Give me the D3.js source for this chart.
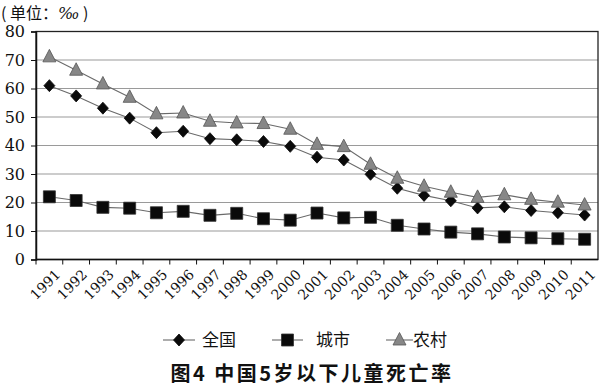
<!DOCTYPE html>
<html lang="zh">
<head>
<meta charset="UTF-8">
<script src="https://d3js.org/d3.v7.min.js"></script>
<style>
  body { margin:0; background:#fff; }
  .grid line { stroke:#9a9a9a; stroke-width:1.2px; }
  .num { font-family: "DejaVu Serif", "Liberation Serif", serif; fill:#111; }
  .cjk { font-family: "Noto Sans CJK SC", sans-serif; fill:#111; }
</style>
</head>
<body>
<svg id="chart" width="600" height="386"></svg>
<script>
// data
const years = ["1991","1992","1993","1994","1995","1996","1997","1998","1999","2000","2001","2002","2003","2004","2005","2006","2007","2008","2009","2010","2011"];
const national = [61.0,57.4,53.1,49.6,44.5,45.0,42.4,42.0,41.4,39.7,35.9,34.9,29.9,25.0,22.5,20.6,18.1,18.5,17.2,16.4,15.6];
const urban = [22.0,20.7,18.3,18.0,16.4,16.9,15.5,16.2,14.3,13.8,16.3,14.6,14.8,12.0,10.7,9.6,9.0,7.9,7.6,7.3,7.1];
const rural = [71.1,66.4,61.6,56.9,51.1,51.4,48.5,47.9,47.7,45.7,40.4,39.6,33.4,28.5,25.7,23.6,21.8,22.7,21.1,20.1,19.1];
const yTicks = [0,10,20,30,40,50,60,70,80];
const seriesNames = ["全国","城市","农村"];

let svg = d3.select("#chart");
let plotLeft = 36, plotRight = 598, plotTop = 31.5, plotBottom = 259.5;

let x = d3.scaleBand().domain(years).range([plotLeft, plotRight]);
let y = d3.scaleLinear().domain([0, 80]).range([plotBottom, plotTop]);

// gridlines
svg.append("g").attr("class","grid")
  .selectAll("line").data(yTicks.filter(d => d > 0 && d < 80)).enter()
  .append("line")
  .attr("x1", plotLeft).attr("x2", plotRight)
  .attr("y1", d => y(d)).attr("y2", d => y(d));

// frame
svg.append("rect")
  .attr("x", plotLeft).attr("y", plotTop)
  .attr("width", plotRight - plotLeft).attr("height", plotBottom - plotTop)
  .style("fill","none").style("stroke","#222").style("stroke-width",1.3);

// y axis
let yAxis = svg.append("g")
  .attr("transform","translate(" + plotLeft + ",0)")
  .call(d3.axisLeft(y).tickValues(yTicks).tickSize(5).tickPadding(6));
yAxis.attr("font-family", null).attr("font-size", null);
yAxis.select(".domain").style("stroke","#111").style("stroke-width",1.5);
yAxis.selectAll(".tick line").style("stroke","#111");
yAxis.selectAll("text").attr("class","num").attr("fill", null).style("font-size","16px");

// x axis: ticks at band edges, labels at band centres
let xa = svg.append("g");
xa.append("line").attr("x1", plotLeft).attr("x2", plotRight)
  .attr("y1", plotBottom).attr("y2", plotBottom)
  .style("stroke","#111").style("stroke-width",1.5);
xa.selectAll(".xt").data(years).enter().append("line")
  .attr("x1", d => x(d)).attr("x2", d => x(d))
  .attr("y1", plotBottom).attr("y2", plotBottom + 5)
  .style("stroke","#111");
xa.selectAll(".xl").data(years).enter().append("text")
  .attr("class","num")
  .attr("transform", d => "translate(" + (x(d) + x.bandwidth()/2 + 5) + "," + (plotBottom + 9) + ") rotate(-45)")
  .attr("text-anchor","end")
  .attr("dy","0.7em")
  .style("font-size","14px")
  .text(d => d);

// series
let line = d3.line().x((d,i) => x(years[i]) + x.bandwidth()/2).y(d => y(d));
let lineColor = "#6a6a6a";

function drawLine(vals) {
  svg.append("path").datum(vals)
    .attr("d", line)
    .style("fill","none").style("stroke",lineColor).style("stroke-width",1.1);
}
drawLine(national);
drawLine(urban);
drawLine(rural);

let diamond = "M0,-6L5.5,0L0,6L-5.5,0Z";
let square = "M-6,-6L6,-6L6,6L-6,6Z";
let triangle = "M0,-7.5L6.5,5L-6.5,5Z";

function drawMarks(vals, shape, fill, stroke) {
  svg.append("g").selectAll("path").data(vals).enter()
    .append("path")
    .attr("d", shape)
    .attr("transform", (d,i) => "translate(" + (x(years[i]) + x.bandwidth()/2) + "," + y(d) + ")")
    .style("fill", fill).style("stroke", stroke).style("stroke-width", 0.8);
}
drawMarks(urban, square, "#0a0a0a", "#333");
drawMarks(national, diamond, "#0a0a0a", "#0a0a0a");
drawMarks(rural, triangle, "#878787", "#555");

// legend
let legendItems = [
  {name: seriesNames[0], shape: diamond, fill:"#0a0a0a", stroke:"#0a0a0a", x1:163, x2:195, tx:202},
  {name: seriesNames[1], shape: square, fill:"#0a0a0a", stroke:"#333", x1:272, x2:303, tx:316},
  {name: seriesNames[2], shape: triangle, fill:"#878787", stroke:"#555", x1:386, x2:413, tx:413}
];
let ly = 340;
legendItems.forEach(function(d) {
  svg.append("line").attr("x1", d.x1).attr("x2", d.x2).attr("y1", ly).attr("y2", ly)
    .style("stroke", lineColor).style("stroke-width", 1.1);
  svg.append("path").attr("d", d.shape)
    .attr("transform","translate(" + ((d.x1 + d.x2)/2) + "," + ly + ")")
    .style("fill", d.fill).style("stroke", d.stroke).style("stroke-width",0.8);
  svg.append("text").attr("class","cjk")
    .attr("x", d.tx).attr("y", ly).attr("dy","0.35em")
    .style("font-size","17px")
    .text(d.name);
});

// unit label
let unit = svg.append("text").attr("class","cjk")
  .attr("x", 1).attr("y", 13).attr("dy","0.35em")
  .style("font-size","16px");
unit.append("tspan").text("( 单位：");
unit.append("tspan").attr("class","num").style("font-style","italic").style("font-size","16px").text("‰");
unit.append("tspan").text(" )");

// title
svg.append("text").attr("class","cjk")
  .attr("x", 312).attr("y", 374).attr("dy","0.35em")
  .attr("text-anchor","middle")
  .style("font-size","20px").style("font-weight","bold")
  .style("letter-spacing","2.5px")
  .text("图4  中国5岁以下儿童死亡率");
</script>
</body>
</html>
